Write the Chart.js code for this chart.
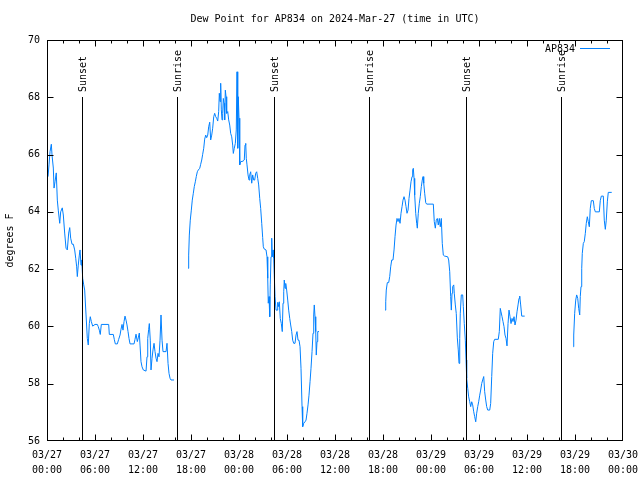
<!DOCTYPE html>
<html><head><meta charset="utf-8">
<script src="https://cdn.jsdelivr.net/npm/chart.js@4"></script>
<style>html,body{margin:0;padding:0;background:#fff}canvas{display:block}</style>
</head><body>
<canvas id="c" width="640" height="480"></canvas>
<script>
const titleText = 'Dew Point for AP834 on 2024-Mar-27 (time in UTC)';
const seriesName = 'AP834';
const yAxisLabel = 'degrees F';
const xTickLabels = [['03/27','00:00'],['03/27','06:00'],['03/27','12:00'],['03/27','18:00'],
  ['03/28','00:00'],['03/28','06:00'],['03/28','12:00'],['03/28','18:00'],
  ['03/29','00:00'],['03/29','06:00'],['03/29','12:00'],['03/29','18:00'],['03/30','00:00']];
const eventHours = [4.42, 16.27, 28.42, 40.27, 52.42, 64.25];
const eventNames = ['Sunset','Sunrise','Sunset','Sunrise','Sunset','Sunrise'];

// hours since 03/27 00:00 UTC
const seg1Hours = [0.13,0.25,0.38,0.54,0.63,0.79,0.88,1.00,1.16,1.29,1.41,1.59,1.71,1.91,2.04,2.21,2.38,2.54,2.71,2.84,2.96,3.13,3.29,3.46,3.59,3.71,3.79,3.91,4.04,4.13,4.25,4.34,4.46,4.59,4.71,4.88,5.04,5.16,5.29,5.41,5.54,5.71,6.00,6.29,6.41,6.54,6.66,6.79,7.71,7.79,8.29,8.41,8.54,8.79,8.96,9.13,9.25,9.38,9.50,9.63,9.75,9.88,10.00,10.13,10.25,10.38,10.88,11.00,11.13,11.29,11.41,11.54,11.63,11.75,11.88,12.04,12.38,12.50,12.59,12.71,12.79,12.91,13.00,13.13,13.25,13.38,13.50,13.63,13.75,13.88,14.00,14.13,14.25,14.38,14.50,14.88,15.00,15.13,15.25,15.38,15.50,15.88];
const seg1Dew = [65.23,65.64,66.10,66.36,65.98,65.53,64.83,65.05,65.36,64.41,64.06,63.60,64.00,64.14,63.89,63.26,62.73,62.67,63.26,63.45,63.08,62.87,62.87,62.67,62.38,62.08,61.74,62.14,62.49,62.67,62.14,62.32,61.68,61.45,61.27,60.40,59.58,59.35,60.10,60.34,60.17,60.01,60.07,60.07,59.99,59.87,59.72,60.07,60.07,59.72,59.72,59.55,59.39,59.39,59.55,59.70,59.90,60.07,59.87,60.17,60.36,60.22,60.05,59.82,59.58,59.39,59.39,59.55,59.73,59.47,59.60,59.77,59.35,58.77,58.59,58.48,58.44,58.94,59.58,59.90,60.10,59.52,58.48,58.89,59.18,59.41,59.12,58.89,58.77,59.06,58.94,59.52,60.40,59.52,59.12,59.12,59.41,58.71,58.36,58.19,58.13,58.13];

const seg2Hours = [17.63,17.71,17.79,17.91,18.04,18.16,18.29,18.41,18.54,18.66,18.79,18.91,19.09,19.21,19.34,19.46,19.59,19.71,19.84,19.96,20.09,20.21,20.34,20.46,20.59,20.71,20.84,20.96,21.09,21.21,21.34,21.46,21.54,21.63,21.71,21.79,21.88,21.96,22.04,22.13,22.21,22.29,22.38,22.46,22.59,22.71,22.84,22.96,23.09,23.21,23.29,23.41,23.54,23.66,23.75,23.84,23.91,24.00,24.09,24.21,24.50,24.66,24.75,24.84,24.91,25.00,25.13,25.25,25.34,25.46,25.59,25.71,25.84,25.96,26.09,26.21,26.34,26.46,26.59,26.71,26.84,26.96,27.04,27.16,27.38,27.50,27.59,27.66,27.75,27.84,27.91,28.00,28.09,28.16,28.25,28.34,28.41,28.50,28.63,28.75,28.84,28.91,29.04,29.16,29.29,29.41,29.50,29.59,29.66,29.75,29.84,29.96,30.09,30.21,30.34,30.46,30.59,30.71,30.84,31.00,31.13,31.25,31.38,31.50,31.63,31.75,31.88,31.96,32.09,32.25,32.38,32.50,32.63,32.75,32.88,33.00,33.13,33.25,33.34,33.41,33.50,33.59,33.66,33.75,33.84,34.00];
const seg2Dew = [62.03,62.49,63.19,63.71,64.06,64.41,64.65,64.88,65.05,65.23,65.40,65.46,65.52,65.66,65.81,66.01,66.22,66.54,66.68,66.59,66.68,66.97,67.13,66.51,66.68,66.92,67.32,67.44,67.32,67.27,67.17,67.50,68.14,67.85,68.49,67.56,67.21,67.44,67.96,67.79,67.21,68.25,68.02,67.44,67.50,67.21,67.03,66.74,66.62,66.33,66.04,66.22,66.39,66.86,68.89,66.22,68.02,67.27,65.64,65.75,65.77,65.81,66.33,66.39,65.87,65.64,65.29,65.11,65.29,65.40,65.00,65.29,65.11,65.11,65.35,65.40,65.17,64.94,64.47,64.12,63.60,63.10,62.78,62.70,62.67,62.43,61.68,60.81,61.04,60.34,61.45,62.43,63.08,62.43,62.67,62.38,61.80,61.04,60.57,60.57,60.84,60.69,60.86,60.28,60.10,59.82,60.81,61.21,61.62,61.33,61.50,61.27,60.92,60.57,60.28,60.05,59.82,59.52,59.41,59.41,59.70,59.82,59.52,59.52,59.29,58.54,57.20,56.50,56.62,56.67,56.73,56.97,57.26,57.60,58.07,58.54,59.12,59.76,60.40,60.75,60.34,59.82,59.00,59.47,59.82,59.82];

const seg3Hours = [42.25,42.34,42.41,42.54,42.71,42.84,42.96,43.09,43.25,43.38,43.50,43.63,43.75,43.88,44.00,44.13,44.25,44.38,44.50,44.63,44.75,44.88,45.00,45.13,45.25,45.38,45.50,45.63,45.71,45.79,45.88,45.96,46.09,46.21,46.29,46.41,46.54,46.66,46.79,46.91,47.00,47.09,47.21,47.34,47.46,48.29,48.41,48.54,48.66,48.79,48.91,49.04,49.16,49.29,49.41,49.54,49.66,50.09,50.21,50.34,50.46,50.54,50.63,50.71,50.84,50.91,51.04,51.16,51.29,51.41,51.50,51.59,51.66,51.79,51.96,52.04,52.16,52.29,52.38,52.46,52.59,52.71,52.84,52.96,53.09,53.21,53.34,53.46,53.59,53.71,53.84,53.96,54.09,54.21,54.34,54.46,54.59,54.71,54.84,54.96,55.09,55.34,55.46,55.59,55.71,55.84,55.96,56.41,56.54,56.66,56.75,56.88,57.00,57.13,57.25,57.38,57.50,57.63,57.75,57.88,58.00,58.13,58.25,58.38,58.50,58.63,58.75,58.88,59.00,59.09,59.21,59.34,59.71];
const seg3Dew = [60.57,60.86,61.27,61.53,61.53,61.74,62.08,62.32,62.32,62.67,63.13,63.54,63.77,63.66,63.77,63.60,63.95,64.18,64.41,64.53,64.41,64.18,63.95,64.06,64.47,64.76,65.05,65.23,65.46,65.52,65.17,64.59,63.95,63.60,63.43,63.95,64.30,64.53,64.88,65.11,65.23,65.00,64.65,64.32,64.27,64.27,63.66,63.43,63.71,63.77,63.54,63.77,63.48,63.77,62.90,62.49,62.46,62.43,62.32,61.91,61.04,60.57,61.16,61.39,61.45,61.16,60.75,60.45,59.60,59.18,58.71,59.58,60.46,61.10,61.10,60.69,60.10,59.52,58.83,58.19,57.84,57.54,57.37,57.20,57.37,57.26,57.02,56.85,56.67,56.97,57.20,57.37,57.60,57.78,58.01,58.13,58.25,57.72,57.43,57.20,57.08,57.08,57.31,58.25,59.06,59.47,59.55,59.55,59.82,60.63,60.51,60.34,60.17,59.99,59.70,59.58,59.32,60.10,60.57,60.34,60.10,60.28,60.17,60.34,60.05,60.22,60.51,60.75,60.98,61.06,60.75,60.36,60.36];

const seg4Hours = [65.79,65.84,65.96,66.09,66.21,66.34,66.46,66.59,66.66,66.75,66.84,66.91,67.04,67.16,67.29,67.41,67.54,67.66,67.79,67.91,68.04,68.29,68.41,68.54,69.04,69.16,69.29,69.54,69.66,69.79,69.91,70.04,70.16,70.59];
const seg4Dew = [59.29,59.70,60.46,60.92,61.10,60.98,60.63,60.40,61.04,61.39,62.03,62.55,62.90,62.96,63.25,63.60,63.83,63.66,63.48,64.12,64.39,64.39,64.12,64.00,64.00,64.39,64.55,64.55,63.71,63.39,63.71,64.35,64.68,64.68];

const segments = [[seg1Hours, seg1Dew],[seg2Hours, seg2Dew],[seg3Hours, seg3Dew],[seg4Hours, seg4Dew]];
const points = [];
segments.forEach(([hs, vs], si) => {
  if (si > 0) points.push({x: hs[0] - 0.01, y: null});
  hs.forEach((h, i) => points.push({x: h, y: vs[i]}));
});

const FONT = 'DejaVu Sans Mono';
const LINE_COLOR = 'rgb(0,128,255)';
Chart.defaults.font.family = FONT;
Chart.defaults.font.size = 10;
Chart.defaults.color = '#000';

const gnuplotDecor = {
  id: 'gnuplotDecor',
  afterDatasetsDraw(chart) {
    const {ctx, chartArea: {left, right, top, bottom}, scales: {x, y}} = chart;
    const fl = left + 0.5, fr = right - 0.5, ft = top + 0.5, fb = bottom - 0.5;
    const clampX = (p) => Math.min(Math.max(p, fl), fr);
    const clampY = (p) => Math.min(Math.max(p, ft), fb);
    ctx.save();
    ctx.strokeStyle = '#000';
    ctx.lineWidth = 1;
    // frame
    ctx.strokeRect(fl, ft, fr - fl, fb - ft);
    // x ticks (major every 6h, minor every 2h)
    ctx.beginPath();
    for (let h = 0; h <= 72; h += 2) {
      const px = clampX(Math.round(x.getPixelForValue(h)) + 0.5);
      const len = (h % 6 === 0) ? 6 : 3;
      ctx.moveTo(px, fb); ctx.lineTo(px, fb - len);
      ctx.moveTo(px, ft); ctx.lineTo(px, ft + len);
    }
    for (let v = 56; v <= 70; v += 2) {
      const py = clampY(Math.round(y.getPixelForValue(v)) + 0.5);
      ctx.moveTo(fl, py); ctx.lineTo(fl + 6, py);
      ctx.moveTo(fr, py); ctx.lineTo(fr - 6, py);
    }
    ctx.stroke();
    // sunrise / sunset markers
    ctx.font = '10px ' + FONT;
    ctx.fillStyle = '#000';
    eventHours.forEach((h, i) => {
      const px = Math.round(x.getPixelForValue(h)) + 0.5;
      ctx.beginPath();
      ctx.moveTo(px, top + 57); ctx.lineTo(px, fb);
      ctx.stroke();
      ctx.save();
      ctx.translate(px + 1, top + 52);
      ctx.rotate(-Math.PI / 2);
      ctx.textAlign = 'left';
      ctx.textBaseline = 'middle';
      ctx.fillText(eventNames[i], 0, 0);
      ctx.restore();
    });
    // legend
    ctx.textAlign = 'right';
    ctx.textBaseline = 'middle';
    ctx.fillText(seriesName, right - 48, top + 9);
    ctx.strokeStyle = LINE_COLOR;
    ctx.beginPath();
    ctx.moveTo(right - 43, top + 8.5); ctx.lineTo(right - 13, top + 8.5);
    ctx.stroke();
    ctx.restore();
  }
};

new Chart(document.getElementById('c'), {
  type: 'line',
  data: {
    datasets: [{
      label: seriesName,
      data: points,
      borderColor: LINE_COLOR,
      borderWidth: 1,
      pointRadius: 0,
      tension: 0,
      spanGaps: false,
      fill: false
    }]
  },
  options: {
    responsive: false,
    animation: false,
    layout: {padding: {left: 0, right: 17, top: 0, bottom: 0}},
    plugins: {
      legend: {display: false},
      tooltip: {enabled: false},
      title: {
        display: true,
        text: titleText,
        fullSize: false,
        font: {family: FONT, size: 10, weight: 'normal', lineHeight: 1.2},
        color: '#000',
        padding: {top: 13, bottom: 15}
      }
    },
    scales: {
      x: {
        type: 'linear',
        min: 0, max: 72,
        grid: {display: false, drawTicks: false},
        border: {display: false},
        afterFit(scale) { scale.height = 39; scale.paddingLeft = 0; scale.paddingRight = 0; },
        ticks: {
          stepSize: 6,
          autoSkip: false,
          maxRotation: 0,
          padding: 7,
          font: {family: FONT, size: 10, lineHeight: 1.5},
          color: '#000',
          callback: (v) => xTickLabels[Math.round(v / 6)]
        }
      },
      y: {
        min: 56, max: 70,
        grid: {display: false, drawTicks: false},
        border: {display: false},
        afterFit(scale) { scale.width = 47; scale.paddingTop = 0; scale.paddingBottom = 0; },
        title: {
          display: true,
          text: yAxisLabel,
          font: {family: FONT, size: 10, lineHeight: 1.2},
          color: '#000',
          padding: {top: 4, bottom: 0}
        },
        ticks: {
          stepSize: 2,
          padding: 7,
          font: {family: FONT, size: 10},
          color: '#000'
        }
      }
    }
  },
  plugins: [gnuplotDecor]
});
</script>
</body></html>
